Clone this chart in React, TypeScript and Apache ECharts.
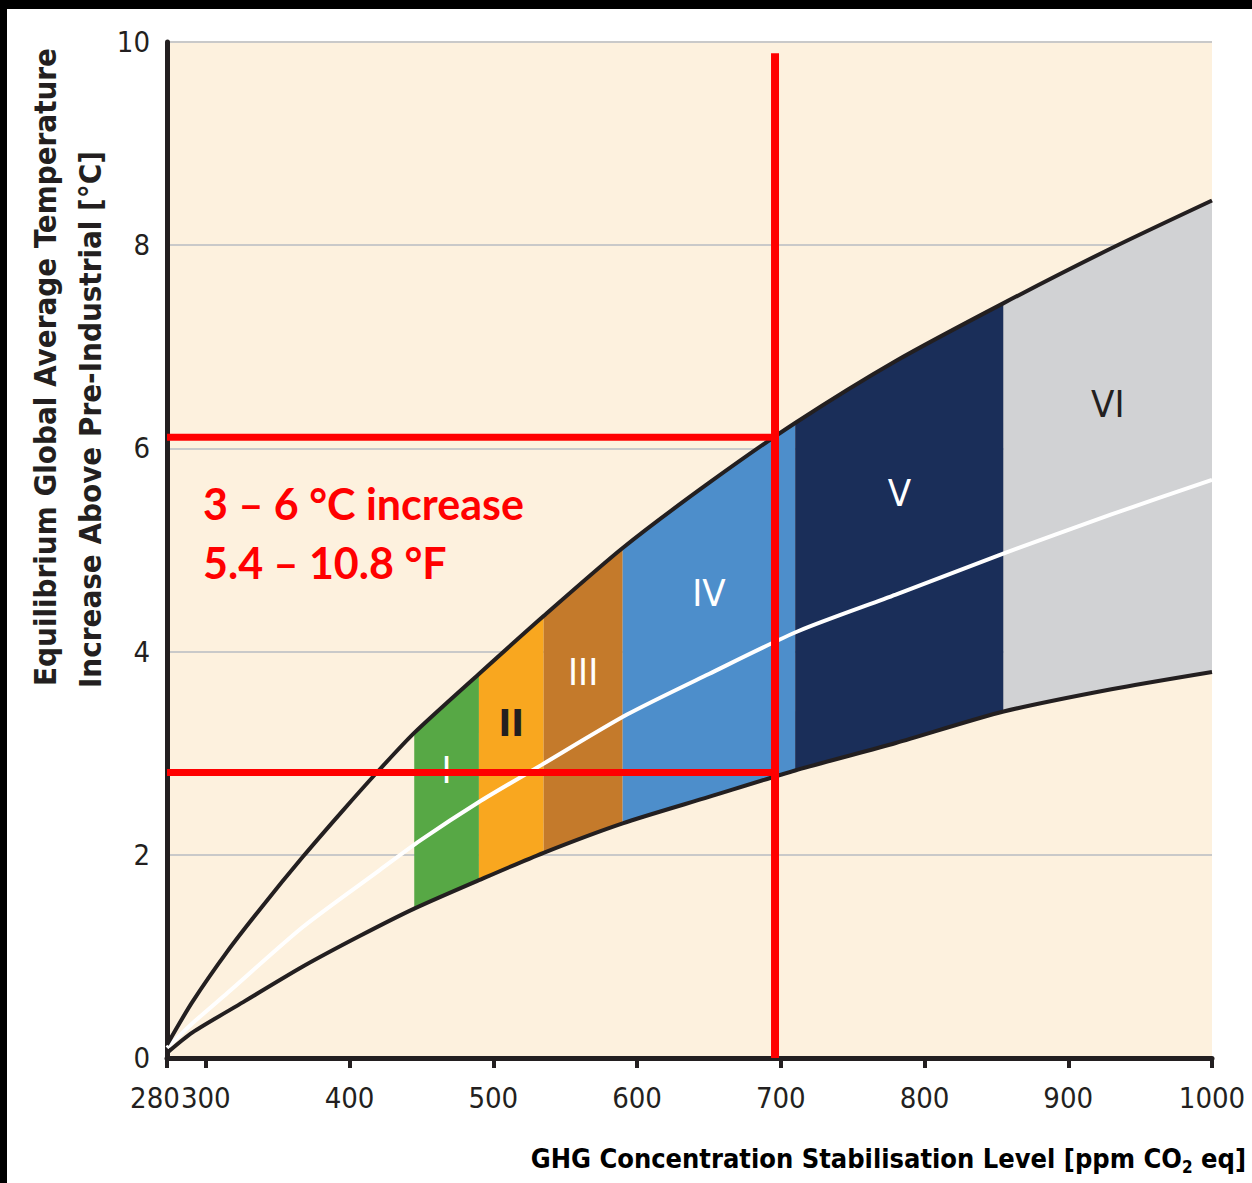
import React, { useEffect, useRef } from "react";
import * as echarts from "echarts";

// ---- data ----
const xTickValues = [280, 300, 400, 500, 600, 700, 800, 900, 1000];
const yTickValues = [0, 2, 4, 6, 8, 10];

// upper bound of climate sensitivity
const upperX = [280, 293, 315, 338, 367.5, 395, 419, 445, 490, 535, 590, 650, 710, 780, 855, 930, 1000];
const upperY = [0.13, 0.55, 1.05, 1.47, 1.98, 2.43, 2.81, 3.2, 3.78, 4.35, 5.02, 5.66, 6.25, 6.86, 7.43, 7.97, 8.44];
// lower bound
const lowerX = [280, 293, 326, 367.5, 407, 445, 490, 535, 590, 650, 710, 780, 855, 930, 1000];
const lowerY = [0.05, 0.25, 0.55, 0.9, 1.2, 1.47, 1.75, 2.02, 2.31, 2.57, 2.83, 3.1, 3.41, 3.63, 3.8];
// best estimate
const bestX = [280, 293, 315, 367.5, 421, 449, 490, 533, 593, 650, 712, 780, 852, 930, 1000];
const bestY = [0.1, 0.34, 0.64, 1.29, 1.85, 2.14, 2.52, 2.88, 3.38, 3.78, 4.2, 4.56, 4.95, 5.35, 5.69];

// stabilisation categories
const catNames = ["I", "II", "III", "IV", "V", "VI"];
const catStart = [445, 490, 535, 590, 710, 855];
const catEnd = [490, 535, 590, 710, 855, 1000];
const catColors = ["#57a845", "#f9a71f", "#c47a2b", "#4d8ecb", "#1a2e59", "#d1d2d4"];
const catLabelColors = ["#ffffff", "#231f20", "#ffffff", "#ffffff", "#ffffff", "#231f20"];
const catLabelWeights = ["normal", "bold", "normal", "normal", "normal", "normal"];

// red annotation
const markPpm = 696;
const markLow = 2.81;
const markHigh = 6.11;
const markTop = 9.89;
const annotationLines = ["3 \u2013 6 \u00b0C increase", "5.4 \u2013 10.8 \u00b0F"];

// ---- axis helpers: the original axis squeezes 280..300 ----
const AXIS_MIN = 273;
const toAxis = (ppm: number) => (ppm >= 300 ? ppm : 300 - ((300 - ppm) * (300 - AXIS_MIN)) / 20);
const fromAxis = (v: number) => (v >= 300 ? v : Math.round(300 - ((300 - v) * 20) / (300 - AXIS_MIN)));

const interp = (xs: number[], ys: number[], x: number) => {
  for (let i = 0; i < xs.length - 1; i++) {
    if (x >= xs[i] && x <= xs[i + 1]) {
      const t = (x - xs[i]) / (xs[i + 1] - xs[i]);
      return ys[i] + t * (ys[i + 1] - ys[i]);
    }
  }
  return ys[ys.length - 1];
};

const FONT = "'DejaVu Sans Condensed', 'Liberation Sans Narrow', 'Open Sans', sans-serif";
const DARK = "#231f20";
const RED = "#ff0000";

export default function App() {
  const ref = useRef<HTMLDivElement>(null);

  useEffect(() => {
    document.body.style.margin = "0";
    if (!ref.current) return;
    const chart = echarts.init(ref.current, undefined, { renderer: "svg" });

    const lineData = (xs: number[], ys: number[]) => xs.map((x, i) => [toAxis(x), ys[i]]);

    const option: any = {
      animation: false,
      backgroundColor: "#ffffff",
      grid: {
        left: 167,
        top: 42,
        width: 1045,
        height: 1016,
        show: true,
        backgroundColor: "#fdf1de",
        borderWidth: 0,
      },
      xAxis: {
        type: "value",
        min: AXIS_MIN,
        max: 1000,
        axisLine: { show: true, lineStyle: { color: DARK, width: 5 } },
        axisTick: {
          show: true,
          length: 10,
          lineStyle: { color: DARK, width: 4 },
          customValues: xTickValues.map(toAxis),
        },
        axisLabel: {
          customValues: xTickValues.map(toAxis),
          margin: 25,
          fontFamily: FONT,
          fontSize: 29,
          color: DARK,
          formatter: (v: number) => {
            const ppm = fromAxis(v);
            return ppm < 300 ? `{l|${ppm}}` : `{n|${ppm}}`;
          },
          rich: {
            l: { fontFamily: FONT, fontSize: 29, color: DARK, padding: [0, 24, 0, 0] },
            n: { fontFamily: FONT, fontSize: 29, color: DARK },
          },
        },
        splitLine: { show: false },
      },
      yAxis: {
        type: "value",
        min: yTickValues[0],
        max: yTickValues[yTickValues.length - 1],
        interval: 2,
        axisLine: { show: true, lineStyle: { color: DARK, width: 5 } },
        axisTick: { show: false },
        axisLabel: { margin: 17, fontFamily: FONT, fontSize: 29, color: DARK },
        splitLine: { show: true, lineStyle: { color: "#c9c9c9", width: 2 } },
      },
      series: [
        {
          type: "custom",
          name: "categories",
          z: 2,
          data: catNames.map((_, i) => [catStart[i], catEnd[i], 0]),
          encode: { x: [0, 1], y: 2 },
          renderItem: (params: any, api: any) => {
            const i = params.dataIndex;
            const a = catStart[i];
            const b = catEnd[i];
            const pts: number[][] = [];
            lowerX.forEach((x, k) => {
              if (x >= a && x <= b) pts.push(api.coord([toAxis(x), lowerY[k]]));
            });
            const up: number[][] = [];
            upperX.forEach((x, k) => {
              if (x >= a && x <= b) up.push(api.coord([toAxis(x), upperY[k]]));
            });
            up.reverse().forEach((p) => pts.push(p));
            const mid = (a + b) / 2;
            const lo = interp(lowerX, lowerY, mid);
            const hi = interp(upperX, upperY, mid);
            const lp = api.coord([toAxis(mid), lo + 0.65 * (hi - lo)]);
            return {
              type: "group",
              children: [
                { type: "polygon", shape: { points: pts }, style: { fill: catColors[i] } },
                {
                  type: "text",
                  x: lp[0],
                  y: lp[1],
                  style: {
                    text: catNames[i],
                    fill: catLabelColors[i],
                    font: `${catLabelWeights[i]} 38px ${FONT}`,
                    align: "center",
                    verticalAlign: "middle",
                  },
                },
              ],
            };
          },
        },
        {
          type: "line",
          name: "best",
          z: 3,
          data: lineData(bestX, bestY),
          symbol: "none",
          smooth: 0.25,
          lineStyle: { color: "#ffffff", width: 4 },
        },
        {
          type: "line",
          name: "upper",
          z: 4,
          data: lineData(upperX, upperY),
          symbol: "none",
          smooth: 0.25,
          lineStyle: { color: DARK, width: 4 },
        },
        {
          type: "line",
          name: "lower",
          z: 4,
          data: lineData(lowerX, lowerY),
          symbol: "none",
          smooth: 0.25,
          lineStyle: { color: DARK, width: 4 },
        },
        {
          type: "line",
          name: "mark-vertical",
          z: 6,
          data: [
            [markPpm, markTop],
            [markPpm, 0],
          ],
          symbol: "none",
          lineStyle: { color: RED, width: 8, cap: "butt" },
        },
        {
          type: "line",
          name: "mark-high",
          z: 6,
          data: [
            [AXIS_MIN, markHigh],
            [markPpm, markHigh],
          ],
          symbol: "none",
          lineStyle: { color: RED, width: 7, cap: "butt" },
        },
        {
          type: "line",
          name: "mark-low",
          z: 6,
          data: [
            [AXIS_MIN, markLow],
            [markPpm, markLow],
          ],
          symbol: "none",
          lineStyle: { color: RED, width: 7, cap: "butt" },
        },
      ],
      graphic: [
        { type: "rect", shape: { x: 0, y: 0, width: 1252, height: 9 }, style: { fill: "#000" }, z: 100 },
        { type: "rect", shape: { x: 0, y: 0, width: 7, height: 1183 }, style: { fill: "#000" }, z: 100 },
        {
          type: "text",
          x: 45,
          y: 686,
          rotation: Math.PI / 2,
          style: {
            text: "Equilibrium Global Average Temperature",
            font: `bold 31px ${FONT}`,
            fill: DARK,
            align: "left",
            verticalAlign: "middle",
          },
        },
        {
          type: "text",
          x: 90,
          y: 688,
          rotation: Math.PI / 2,
          style: {
            text: "Increase Above Pre-Industrial [\u00b0C]",
            font: `bold 31px ${FONT}`,
            fill: DARK,
            align: "left",
            verticalAlign: "middle",
          },
        },
        {
          type: "text",
          x: 1246,
          y: 1158,
          style: {
            text: "{a|GHG Concentration Stabilisation Level [ppm CO}{s|2}{a| eq]}",
            align: "right",
            verticalAlign: "middle",
            rich: {
              a: { fontFamily: FONT, fontWeight: "bold", fontSize: 27, color: DARK, lineHeight: 34 },
              s: { fontFamily: FONT, fontWeight: "bold", fontSize: 17, color: DARK, lineHeight: 34, verticalAlign: "bottom" },
            },
          },
        },
        {
          type: "text",
          x: 203,
          y: 503,
          z: 50,
          style: {
            text: annotationLines[0],
            font: `bold 43px Lato, 'Open Sans', sans-serif`,
            fill: RED,
            align: "left",
            verticalAlign: "middle",
          },
        },
        {
          type: "text",
          x: 203,
          y: 562,
          z: 50,
          style: {
            text: annotationLines[1],
            font: `bold 43px Lato, 'Open Sans', sans-serif`,
            fill: RED,
            align: "left",
            verticalAlign: "middle",
          },
        },
      ],
    };

    chart.setOption(option);
    return () => chart.dispose();
  }, []);

  return <div ref={ref} style={{ width: 1252, height: 1183 }} />;
}
